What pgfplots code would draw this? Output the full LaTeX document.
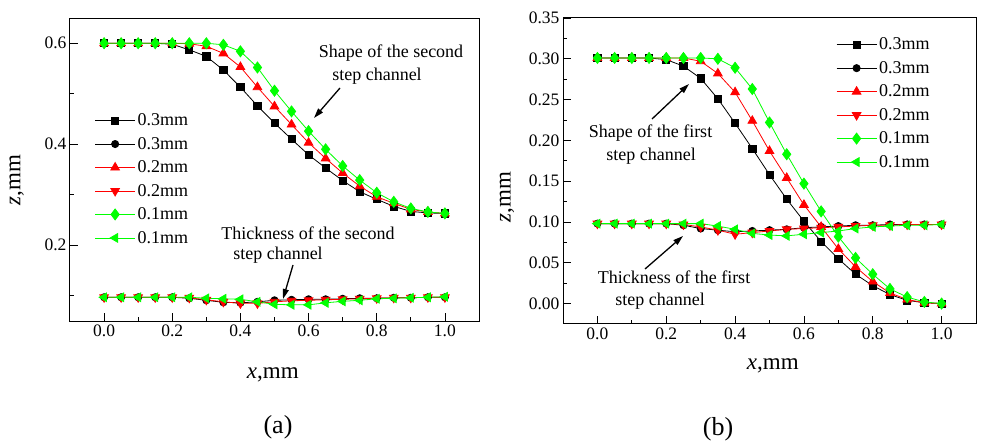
\documentclass[border=0pt]{standalone}
\usepackage{fontspec}
\setmainfont{Liberation Serif}
\usepackage{pgfplots}
\usepackage{pgfplotstable}
\pgfplotsset{compat=1.18}
\usetikzlibrary{arrows.meta}
\definecolor{cgreen}{RGB}{0,255,0}
\definecolor{cred}{RGB}{255,0,0}

\pgfplotstableread{
x     s3    c3    s2    c2    s1    c1
0.00 0.600 0.097 0.600 0.097 0.600 0.097
0.05 0.600 0.097 0.600 0.097 0.600 0.097
0.10 0.600 0.097 0.600 0.097 0.600 0.097
0.15 0.600 0.097 0.600 0.097 0.600 0.097
0.20 0.598 0.097 0.600 0.097 0.600 0.097
0.25 0.587 0.095 0.599 0.096 0.600 0.097
0.30 0.574 0.091 0.594 0.092 0.600 0.095
0.35 0.547 0.087 0.580 0.088 0.597 0.094
0.40 0.513 0.086 0.553 0.085 0.584 0.093
0.45 0.476 0.088 0.513 0.085 0.552 0.088
0.50 0.442 0.091 0.475 0.088 0.506 0.083
0.55 0.410 0.092 0.439 0.090 0.465 0.082
0.60 0.379 0.093 0.403 0.091 0.426 0.082
0.65 0.353 0.093 0.372 0.092 0.390 0.086
0.70 0.328 0.094 0.343 0.093 0.357 0.089
0.75 0.306 0.095 0.317 0.094 0.329 0.091
0.80 0.291 0.095 0.296 0.095 0.304 0.094
0.85 0.277 0.096 0.283 0.096 0.286 0.095
0.90 0.267 0.096 0.271 0.096 0.273 0.096
0.95 0.264 0.097 0.266 0.097 0.266 0.097
1.00 0.263 0.097 0.263 0.097 0.263 0.098
}\lefttab

\pgfplotstableread{
x     s3    c3    s2    c2    s1    c1
0.00 0.301 0.098 0.301 0.098 0.301 0.098
0.05 0.301 0.098 0.301 0.098 0.301 0.098
0.10 0.301 0.098 0.301 0.098 0.301 0.098
0.15 0.301 0.098 0.301 0.098 0.301 0.098
0.20 0.299 0.098 0.301 0.098 0.301 0.098
0.25 0.291 0.096 0.301 0.097 0.301 0.098
0.30 0.276 0.092 0.297 0.094 0.301 0.098
0.35 0.251 0.090 0.282 0.090 0.300 0.095
0.40 0.221 0.088 0.259 0.085 0.289 0.091
0.45 0.190 0.089 0.224 0.087 0.263 0.086
0.50 0.158 0.090 0.187 0.089 0.222 0.084
0.55 0.128 0.091 0.154 0.091 0.183 0.083
0.60 0.101 0.093 0.121 0.092 0.147 0.085
0.65 0.076 0.094 0.094 0.093 0.113 0.087
0.70 0.055 0.095 0.067 0.094 0.082 0.089
0.75 0.036 0.096 0.045 0.095 0.056 0.092
0.80 0.022 0.096 0.027 0.096 0.036 0.094
0.85 0.011 0.097 0.013 0.096 0.018 0.095
0.90 0.004 0.097 0.005 0.097 0.008 0.096
0.95 0.001 0.097 0.001 0.097 0.002 0.096
1.00 0.000 0.097 0.000 0.097 0.000 0.097
}\righttab

\pgfplotsset{
  common/.style={
    scale only axis, anchor=south west,
    xmin=-0.1, xmax=1.1,
    xtick={0,0.2,0.4,0.6,0.8,1.0},
    minor xtick={0.1,0.3,0.5,0.7,0.9},
    tick pos=left, tick align=inside,
    major tick length=8pt, minor tick length=4pt,
    axis line style={line width=1pt},
    every tick/.style={black, line width=0.8pt},
    /pgf/number format/assume math mode=true,
    ticklabel style={font=\fontsize{17.5}{20}\selectfont},
    xticklabel style={/pgf/number format/fixed, /pgf/number format/fixed zerofill, /pgf/number format/precision=1},
    scaled ticks=false,
    label style={font=\fontsize{23}{26}\selectfont},
    legend cell align=left,
    legend style={draw=none, fill=none, inner sep=0pt, row sep=6pt,
      nodes={inner sep=2pt}, font=\fontsize{18}{20}\selectfont},
    legend image code/.code={\draw[mark repeat=2,mark phase=2,#1] plot coordinates {(0pt,0pt) (20pt,0pt) (40pt,0pt)};},
    every axis plot/.append style={line width=0.8pt},
  },
  s3/.style={black, mark=square*, mark size=3.6pt},
  c3/.style={black, mark=*, mark size=3.6pt},
  s2/.style={cred, mark=triangle*, mark size=5pt},
  c2/.style={cred, mark=triangle*, mark size=5pt, mark options={rotate=180}},
  s1/.style={cgreen, mark=diamond*, mark size=5.5pt},
  c1/.style={cgreen, mark=triangle*, mark size=5pt, mark options={rotate=90}},
}

\begin{document}
\begin{tikzpicture}[x=1pt,y=1pt]
\useasboundingbox (0pt,0pt) rectangle (982pt,442pt);

\begin{axis}[common, at={(70pt,121pt)}, width=409pt, height=303pt,
  ymin=0.05, ymax=0.65,
  ytick={0.2,0.4,0.6}, minor ytick={0.1,0.3,0.5},
  yticklabel style={/pgf/number format/fixed, /pgf/number format/fixed zerofill, /pgf/number format/precision=1},
  xlabel={\textit{x},mm}, ylabel={\textit{z},mm},
  xlabel style={at={(axis description cs:0.496,-0.178)}, anchor=center},
  ylabel style={at={(axis description cs:-0.130,0.465)}, anchor=center},
  legend style={at={(axis description cs:0.060,0.691)}, anchor=north west},
]
\addplot[s3] table[x=x,y=s3] {\lefttab};
\addlegendentry{0.3mm}
\addplot[c3] table[x=x,y=c3] {\lefttab};
\addlegendentry{0.3mm}
\addplot[s2] table[x=x,y=s2] {\lefttab};
\addlegendentry{0.2mm}
\addplot[c2] table[x=x,y=c2] {\lefttab};
\addlegendentry{0.2mm}
\addplot[s1] table[x=x,y=s1] {\lefttab};
\addlegendentry{0.1mm}
\addplot[c1] table[x=x,y=c1] {\lefttab};
\addlegendentry{0.1mm}
\end{axis}

\begin{axis}[common, at={(563pt,118pt)}, width=413pt, height=306pt,
  ymin=-0.025, ymax=0.35,
  ytick={0,0.05,0.1,0.15,0.2,0.25,0.3,0.35},
  minor ytick={0.025,0.075,0.125,0.175,0.225,0.275,0.325},
  yticklabel style={/pgf/number format/fixed, /pgf/number format/fixed zerofill, /pgf/number format/precision=2},
  xlabel={\textit{x},mm}, ylabel={\textit{z},mm},
  xlabel style={at={(axis description cs:0.508,-0.137)}, anchor=center},
  ylabel style={at={(axis description cs:-0.1356,0.415)}, anchor=center},
  legend style={at={(axis description cs:0.661,0.942)}, anchor=north west},
]
\addplot[s3] table[x=x,y=s3] {\righttab};
\addlegendentry{0.3mm}
\addplot[c3] table[x=x,y=c3] {\righttab};
\addlegendentry{0.3mm}
\addplot[s2] table[x=x,y=s2] {\righttab};
\addlegendentry{0.2mm}
\addplot[c2] table[x=x,y=c2] {\righttab};
\addlegendentry{0.2mm}
\addplot[s1] table[x=x,y=s1] {\righttab};
\addlegendentry{0.1mm}
\addplot[c1] table[x=x,y=c1] {\righttab};
\addlegendentry{0.1mm}
\end{axis}

% annotations
\begin{scope}[every node/.style={font=\fontsize{18}{22}\selectfont, inner sep=0pt}]
\node at (391pt,389pt) {Shape of the second};
\node at (377pt,366pt) {step channel};
\node at (308pt,209pt) {Thickness of the second};
\node at (278pt,187pt) {step channel};
\node at (650.5pt,309pt) {Shape of the first};
\node at (651pt,286pt) {step channel};
\node at (674pt,165pt) {Thickness of the first};
\node at (660pt,141pt) {step channel};
\end{scope}
\begin{scope}[line width=1.3pt, -{Triangle[length=10pt,width=6pt]}]
\draw (340pt,354pt) -- (314pt,324pt);
\draw (293pt,177pt) -- (283pt,143pt);
\draw (652pt,323pt) -- (689pt,358pt);
\draw (645pt,173pt) -- (683pt,206pt);
\end{scope}

\node[font=\fontsize{26}{30}\selectfont] at (278pt,15pt) {(a)};
\node[font=\fontsize{26}{30}\selectfont] at (718pt,13pt) {(b)};
\end{tikzpicture}
\end{document}
